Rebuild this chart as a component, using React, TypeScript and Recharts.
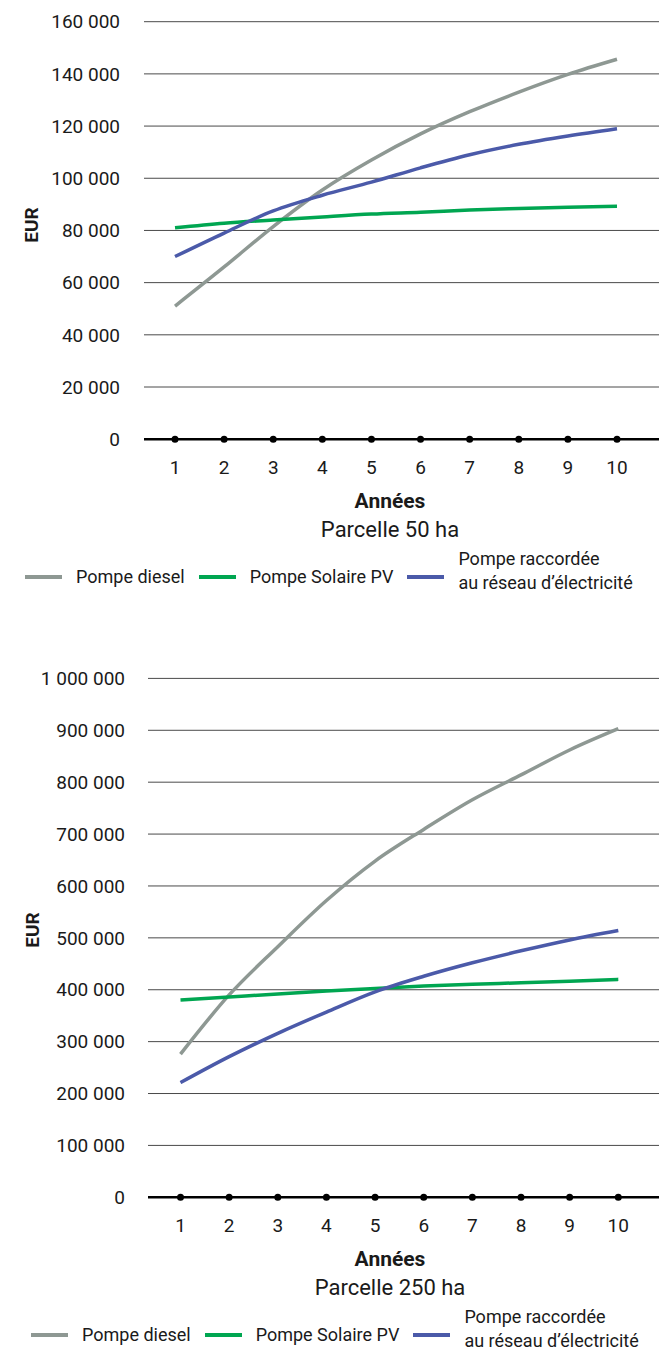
import React from 'react'
import { LineChart, Line, XAxis, YAxis, CartesianGrid } from 'recharts'

const FONT = 'Roboto, "Noto Sans", sans-serif'
const TEXT = '#1a1a1a'

const years = [1, 2, 3, 4, 5, 6, 7, 8, 9, 10]

// Parcelle 50 ha (EUR)
const diesel50 = [51000, 66000, 81500, 95500, 107000, 117000, 125500, 133000, 139800, 145600]
const solar50 = [81000, 82800, 84000, 85200, 86300, 87000, 87800, 88400, 88900, 89300]
const grid50 = [70000, 79000, 87500, 93500, 98500, 104000, 109000, 113000, 116200, 119000]
const ticks50 = [0, 20000, 40000, 60000, 80000, 100000, 120000, 140000, 160000]

// Parcelle 250 ha (EUR)
const diesel250 = [276000, 390000, 483000, 572000, 648000, 709000, 766000, 814000, 862000, 903000]
const solar250 = [380000, 386000, 392000, 397500, 402500, 407000, 410500, 413500, 416500, 420000]
const grid250 = [221000, 271000, 316000, 357000, 396000, 426000, 452000, 475000, 496000, 514000]
const ticks250 = [0, 100000, 200000, 300000, 400000, 500000, 600000, 700000, 800000, 900000, 1000000]

const series = [
  { key: 'diesel', label: ['Pompe diesel'], color: '#8E9893' },
  { key: 'solar', label: ['Pompe Solaire PV'], color: '#00A651' },
  { key: 'grid', label: ['Pompe raccordée', 'au réseau d’électricité'], color: '#4B5AA9' },
]

const fmt = (v: number) => String(v).replace(/\B(?=(\d{3})+(?!\d))/g, ' ')

// distance between the axis line and the top of the year labels
const TICK_GAP = 21

function YearTick(props: any) {
  const { x, y, payload } = props
  return (
    <g>
      <circle cx={x} cy={y - TICK_GAP} r={3.5} fill="#000" />
      <text x={x} y={y} dy="0.71em" textAnchor="middle" fontSize={19} fill={TEXT} fontFamily={FONT}>
        {payload.value}
      </text>
    </g>
  )
}

type PanelProps = {
  top: number
  height: number
  plotTop: number
  plotBottom: number
  plotLeft: number
  labelEnd: number
  pad: { left: number; right: number }
  diesel: number[]
  solar: number[]
  grid: number[]
  ticks: number[]
  title: string
  legendLeft: number
  eur: { x: number; y: number }
}

function Centered({ x, y, style, children }: any) {
  return (
    <div
      style={{
        position: 'absolute',
        left: x,
        top: y,
        transform: 'translate(-50%, -50%)',
        whiteSpace: 'nowrap',
        lineHeight: 1,
        ...style,
      }}
    >
      {children}
    </div>
  )
}

function Panel(p: PanelProps) {
  const data = years.map((year, i) => ({
    year,
    diesel: p.diesel[i],
    solar: p.solar[i],
    grid: p.grid[i],
  }))
  const legendY = p.plotBottom + 138

  return (
    <>
      <div style={{ position: 'absolute', left: 0, top: p.top }}>
        <LineChart
          width={659}
          height={p.height}
          data={data}
          margin={{ top: p.plotTop - p.top, right: 0, bottom: 0, left: 0 }}
        >
          <CartesianGrid vertical={false} stroke="#4a4a4a" />
          {series.map(s => (
            <Line
              key={s.key}
              dataKey={s.key}
              type="monotone"
              stroke={s.color}
              strokeWidth={3.5}
              dot={false}
              isAnimationActive={false}
            />
          ))}
          <YAxis
            width={p.plotLeft}
            domain={[0, p.ticks[p.ticks.length - 1]]}
            ticks={p.ticks}
            interval={0}
            tickFormatter={fmt}
            axisLine={false}
            tickLine={false}
            tickSize={0}
            tickMargin={p.plotLeft - p.labelEnd}
            tick={{ fontSize: 19, fill: TEXT, fontFamily: FONT }}
          />
          <XAxis
            dataKey="year"
            height={p.top + p.height - p.plotBottom}
            padding={p.pad}
            interval={0}
            axisLine={{ stroke: '#000', strokeWidth: 2.5 }}
            tickLine={false}
            tickSize={0}
            tickMargin={TICK_GAP}
            tick={<YearTick />}
          />
        </LineChart>
      </div>

      <Centered
        x={p.eur.x}
        y={p.eur.y}
        style={{ fontSize: 19, fontWeight: 700, transform: 'translate(-50%, -50%) rotate(-90deg)' }}
      >
        EUR
      </Centered>
      <Centered x={390} y={p.plotBottom + 62} style={{ fontSize: 21, fontWeight: 700 }}>
        Années
      </Centered>
      <Centered x={390} y={p.plotBottom + 91} style={{ fontSize: 22 }}>
        {p.title}
      </Centered>

      <div
        style={{
          position: 'absolute',
          left: p.legendLeft,
          top: legendY,
          transform: 'translateY(-50%)',
          display: 'flex',
          alignItems: 'center',
          gap: 14,
          fontSize: 18,
          lineHeight: '24px',
          whiteSpace: 'nowrap',
        }}
      >
        {series.map(s => (
          <React.Fragment key={s.key}>
            <span style={{ width: 37, height: 4, background: s.color, display: 'block' }} />
            <span style={{ position: 'relative', top: s.label.length > 1 ? -6.7 : 0 }}>
              {s.label.map(l => (
                <div key={l}>{l}</div>
              ))}
            </span>
          </React.Fragment>
        ))}
      </div>
    </>
  )
}

export default function App() {
  return (
    <div
      style={{
        position: 'absolute',
        left: 0,
        top: 0,
        width: 659,
        height: 1352,
        overflow: 'hidden',
        background: '#fff',
        fontFamily: FONT,
        color: TEXT,
      }}
    >
      <Panel
        top={0}
        height={520}
        plotTop={21.7}
        plotBottom={439.2}
        plotLeft={144}
        labelEnd={120}
        pad={{ left: 31, right: 42 }}
        diesel={diesel50}
        solar={solar50}
        grid={grid50}
        ticks={ticks50}
        title="Parcelle 50 ha"
        legendLeft={25}
        eur={{ x: 31, y: 225 }}
      />
      <Panel
        top={640}
        height={600}
        plotTop={678.4}
        plotBottom={1197.3}
        plotLeft={148}
        labelEnd={125}
        pad={{ left: 32.5, right: 40.7 }}
        diesel={diesel250}
        solar={solar250}
        grid={grid250}
        ticks={ticks250}
        title="Parcelle 250 ha"
        legendLeft={31}
        eur={{ x: 32, y: 930 }}
      />
    </div>
  )
}
